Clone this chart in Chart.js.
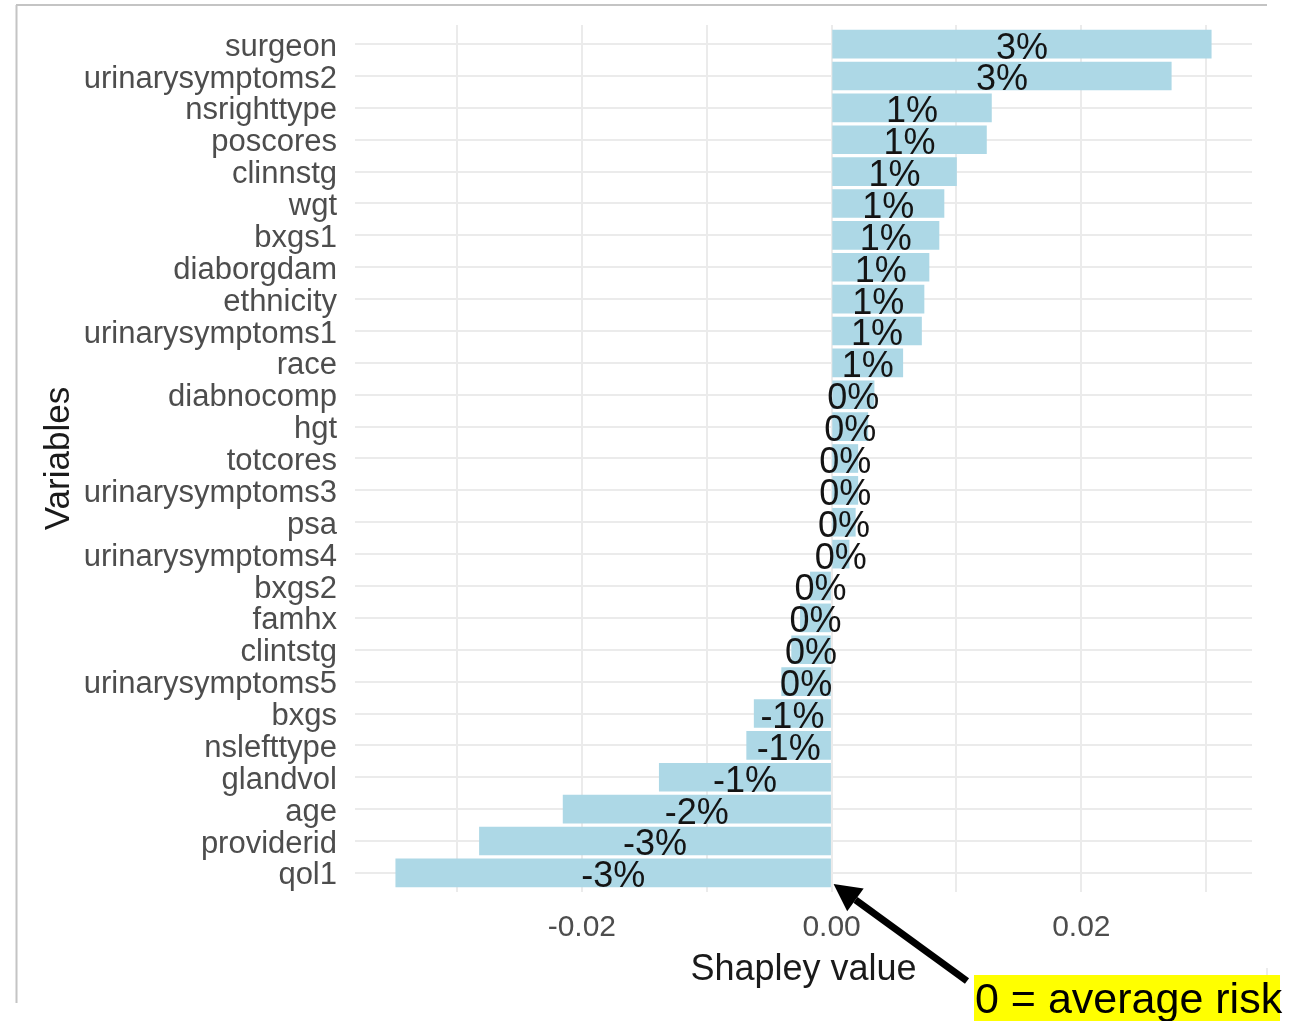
<!DOCTYPE html>
<html>
<head>
<meta charset="utf-8">
<title>Shapley values by variable</title>
<script src="https://cdn.jsdelivr.net/npm/chart.js@4.4.1/dist/chart.umd.min.js"></script>
<style>
  html, body { margin: 0; padding: 0; background: #ffffff; }
  #wrap { width: 1289px; height: 1021px; position: relative; }
  canvas { display: block; }
</style>
</head>
<body>
<div id="wrap"><canvas id="chart" width="1289" height="1021"></canvas></div>
<script>
// Variables, listed from the top of the chart to the bottom
const variables = [
  'surgeon', 'urinarysymptoms2', 'nsrighttype', 'poscores', 'clinnstg', 'wgt',
  'bxgs1', 'diaborgdam', 'ethnicity', 'urinarysymptoms1', 'race', 'diabnocomp',
  'hgt', 'totcores', 'urinarysymptoms3', 'psa', 'urinarysymptoms4', 'bxgs2',
  'famhx', 'clintstg', 'urinarysymptoms5', 'bxgs', 'nslefttype', 'glandvol',
  'age', 'providerid', 'qol1'
];

// Mean Shapley value of each variable
const shapley = [
  0.0304, 0.0272, 0.0128, 0.0124, 0.0100, 0.0090,
  0.0086, 0.0078, 0.0074, 0.0072, 0.0057, 0.0034,
  0.0029, 0.0021, 0.0021, 0.0019, 0.0014, -0.0017,
  -0.0025, -0.0032, -0.0040, -0.0062, -0.0068, -0.0138,
  -0.0215, -0.0282, -0.0349
];

// Axis ticks: labelled values and the full set of grid lines
const xTickLabels = [-0.02, 0.00, 0.02];
const xGridValues = [-0.03, -0.02, -0.01, 0.00, 0.01, 0.02, 0.03];

const xTitle = 'Shapley value';
const yTitle = 'Variables';
const noteText = '0 = average risk';

// Value range padded by 5% on each side; categories padded by 0.6
const span = Math.max(...shapley) - Math.min(...shapley);
const xMin = Math.min(...shapley) - 0.05 * span;
const xMax = Math.max(...shapley) + 0.05 * span;
const yMin = -0.6;
const yMax = variables.length - 1 + 0.6;

const FONT = '"Liberation Sans", Arial, Helvetica, sans-serif';

function pctLabel(v) {
  const p = Math.round(v * 100);
  return (p === 0 ? 0 : p) + '%';
}

// Percentage text at the middle of each bar
const barLabels = {
  id: 'barLabels',
  afterDatasetsDraw(chart) {
    const ctx = chart.ctx;
    const meta = chart.getDatasetMeta(0);
    ctx.save();
    ctx.font = '36px ' + FONT;
    ctx.fillStyle = '#141414';
    ctx.textAlign = 'center';
    ctx.textBaseline = 'middle';
    meta.data.forEach((bar, i) => {
      const p = bar.getProps(['x', 'y', 'base'], true);
      ctx.fillText(pctLabel(shapley[i]), (p.x + p.base) / 2, p.y + 4.5);
    });
    ctx.restore();
  }
};

// Frame edges, the arrow to the zero line and the highlighted note
const noteLayer = {
  id: 'noteLayer',
  afterDraw(chart) {
    const ctx = chart.ctx;
    const area = chart.chartArea;
    const xs = chart.scales.x;
    ctx.save();

    // frame edges
    ctx.strokeStyle = '#c4c4c4';
    ctx.lineWidth = 2;
    ctx.beginPath();
    ctx.moveTo(16, 5); ctx.lineTo(1267, 5);
    ctx.moveTo(16.5, 5); ctx.lineTo(16.5, 1003);
    ctx.stroke();
    ctx.strokeStyle = '#ececec';
    ctx.beginPath();
    ctx.moveTo(1267, 968); ctx.lineTo(1267, 1000);
    ctx.stroke();

    // arrow pointing at zero
    const tipX = xs.getPixelForValue(0) + 2;
    const tipY = area.bottom - 8;
    const tailX = 967, tailY = 981;
    const ang = Math.atan2(tailY - tipY, tailX - tipX);
    const headLen = 27, headHalf = 14;
    const bx = tipX + Math.cos(ang) * headLen;
    const by = tipY + Math.sin(ang) * headLen;
    ctx.strokeStyle = '#000000';
    ctx.lineWidth = 7;
    ctx.lineCap = 'butt';
    ctx.beginPath();
    ctx.moveTo(tailX, tailY);
    ctx.lineTo(bx, by);
    ctx.stroke();
    ctx.fillStyle = '#000000';
    ctx.beginPath();
    ctx.moveTo(tipX, tipY);
    ctx.lineTo(bx + Math.sin(ang) * headHalf, by - Math.cos(ang) * headHalf);
    ctx.lineTo(bx - Math.sin(ang) * headHalf, by + Math.cos(ang) * headHalf);
    ctx.closePath();
    ctx.fill();

    // highlighted note
    ctx.fillStyle = '#ffff00';
    ctx.fillRect(974, 975, 306, 46);
    ctx.fillStyle = '#000000';
    ctx.font = '43px ' + FONT;
    ctx.textAlign = 'left';
    ctx.textBaseline = 'alphabetic';
    ctx.fillText(noteText, 975, 1013);

    ctx.restore();
  }
};

new Chart(document.getElementById('chart'), {
  type: 'bar',
  data: {
    datasets: [{
      data: variables.map((name, i) => ({ x: shapley[i], y: i })),
      backgroundColor: '#ADD8E6',
      borderWidth: 0,
      barThickness: 28
    }]
  },
  options: {
    indexAxis: 'y',
    responsive: false,
    animation: false,
    events: [],
    layout: { padding: { top: 25, right: 37, bottom: 29, left: 0 } },
    plugins: {
      legend: { display: false },
      tooltip: { enabled: false }
    },
    scales: {
      x: {
        type: 'linear',
        position: 'bottom',
        min: xMin,
        max: xMax,
        offset: false,
        afterBuildTicks: (s) => { s.ticks = xGridValues.map(v => ({ value: v })); },
        afterFit: (s) => { s.height = 100; s.paddingLeft = 0; s.paddingRight = 0; },
        grid: { color: '#EBEBEB', lineWidth: 2, drawTicks: false, offset: false },
        border: { display: false },
        ticks: {
          autoSkip: false,
          maxRotation: 0,
          padding: 18,
          color: '#4D4D4D',
          font: { family: FONT, size: 30 },
          callback: (v) => xTickLabels.some(t => Math.abs(t - v) < 1e-9) ? Number(v).toFixed(2) : ''
        },
        title: {
          display: true,
          text: xTitle,
          color: '#1A1A1A',
          font: { family: FONT, size: 36 },
          padding: { top: 0, bottom: 0 }
        }
      },
      y: {
        type: 'linear',
        position: 'left',
        reverse: true,
        min: yMin,
        max: yMax,
        offset: false,
        afterBuildTicks: (s) => { s.ticks = variables.map((n, i) => ({ value: i })); },
        afterFit: (s) => { s.width = 355; s.paddingTop = 0; s.paddingBottom = 0; },
        grid: { color: '#EBEBEB', lineWidth: 2, drawTicks: false, offset: false },
        border: { display: false },
        ticks: {
          autoSkip: false,
          padding: 18,
          labelOffset: 3,
          color: '#4D4D4D',
          font: { family: FONT, size: 31 },
          callback: (v) => variables[v]
        },
        title: {
          display: true,
          text: yTitle,
          color: '#1A1A1A',
          font: { family: FONT, size: 35 },
          padding: { top: 38, bottom: 0 }
        }
      }
    }
  },
  plugins: [barLabels, noteLayer]
});
</script>
</body>
</html>
